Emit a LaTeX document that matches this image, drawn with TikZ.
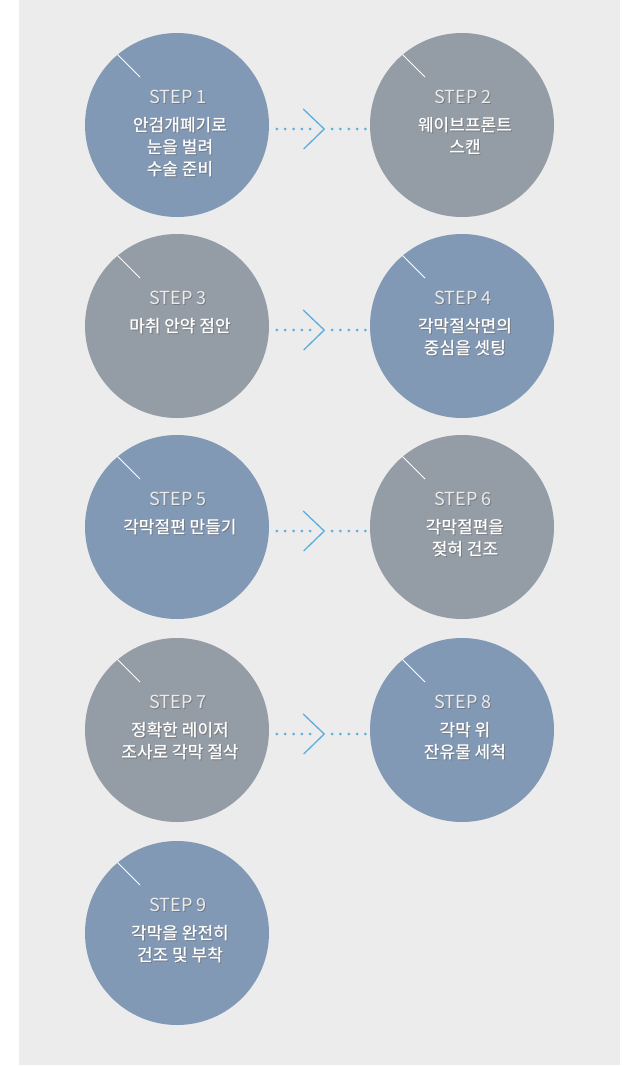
\documentclass[tikz,border=0pt]{standalone}
\usepackage{fontspec}
\newfontfamily\krfont{Noto Sans CJK KR}
\newfontfamily\krbold{Noto Sans CJK KR Medium}
\usetikzlibrary{calc}
\definecolor{bgpanel}{RGB}{236,236,236}
\definecolor{cblue}{RGB}{130,153,181}
\definecolor{cgray}{RGB}{148,156,165}
\definecolor{dotblue}{RGB}{90,174,226}
\tikzset{
  stepcircle/.style={circle,minimum size=184pt,inner sep=0pt,fill=#1,draw=none},
  steptitle/.style={font=\krfont\fontsize{18}{18}\selectfont,text=white!92!black,anchor=base,inner sep=0pt},
  stepline/.style={font=\krbold\fontsize{17}{17}\selectfont,text=white,anchor=base,inner sep=0pt},
  textshadow/.style={text=black!60,opacity=0.6},
  slash/.style={draw=white,line width=0.8pt},
  dotline/.style={draw=dotblue,line width=3pt,line cap=round,dash pattern=on 0pt off 8.33pt},
  chevron/.style={draw=dotblue,line width=1.3pt}
}
\newcommand{\stepcirc}[5]{%
  \node[stepcircle=#4] (#1) at (#2,#3) {};
  \draw[slash] ($(#1)+(-59.5,-70.5)$) coordinate (#1-sa) -- ($(#1)+(-37,-48)$) coordinate (#1-sb);
  \node[steptitle,textshadow] (#1-ts) at ($(#1)+(2,-20.5)$) {STEP #5};
  \node[steptitle] (#1-t) at ($(#1)+(1,-21.5)$) {STEP #5};
}
\newcommand{\steptext}[2]{%
  \foreach \t [count=\i] in {#2} {
    \node[stepline,textshadow] (#1-s\i) at ($(#1)+(4,7+22*\i-22)$) {\t};
    \node[stepline] (#1-l\i) at ($(#1)+(3,6+22*\i-22)$) {\t};
  }
}
\newcommand{\steparrow}[3]{%
  \coordinate (#3-a) at ($(#1.east)+(7.7,4)$);
  \coordinate (#3-b) at ($(#1.east)+(41.5,4)$);
  \coordinate (#3-tip) at ($(#1.east)+(55,4)$);
  \coordinate (#3-c) at ($(#2.west)+(-37.7,4)$);
  \coordinate (#3-d) at ($(#2.west)+(-3.8,4)$);
  \draw[dotline] (#3-a) -- (#3-b);
  \draw[dotline] (#3-c) -- (#3-d);
  \draw[chevron] ($(#3-tip)+(-21,-20)$) -- (#3-tip) -- ($(#3-tip)+(-20.5,20)$);
}
\begin{document}
\begin{tikzpicture}[x=1pt,y=-1pt]
\useasboundingbox (0,0) rectangle (640,1066);
\fill[white] (0,0) rectangle (640,1066);
\fill[bgpanel] (19,0) rectangle (620,1065);
\stepcirc{c1}{177}{125}{cblue}{1}
\steptext{c1}{안검개폐기로,눈을 벌려,수술 준비}
\stepcirc{c2}{462}{125}{cgray}{2}
\steptext{c2}{웨이브프론트,스캔}
\stepcirc{c3}{177}{326}{cgray}{3}
\steptext{c3}{마취 안약 점안}
\stepcirc{c4}{462}{326}{cblue}{4}
\steptext{c4}{각막절삭면의,중심을 셋팅}
\stepcirc{c5}{177}{527}{cblue}{5}
\steptext{c5}{각막절편 만들기}
\stepcirc{c6}{462}{527}{cgray}{6}
\steptext{c6}{각막절편을,젖혀 건조}
\stepcirc{c7}{177}{730}{cgray}{7}
\steptext{c7}{정확한 레이저,조사로 각막 절삭}
\stepcirc{c8}{462}{730}{cblue}{8}
\steptext{c8}{각막 위,잔유물 세척}
\stepcirc{c9}{177}{933}{cblue}{9}
\steptext{c9}{각막을 완전히,건조 및 부착}
\steparrow{c1}{c2}{r1}
\steparrow{c3}{c4}{r2}
\steparrow{c5}{c6}{r3}
\steparrow{c7}{c8}{r4}
\end{tikzpicture}
\end{document}
